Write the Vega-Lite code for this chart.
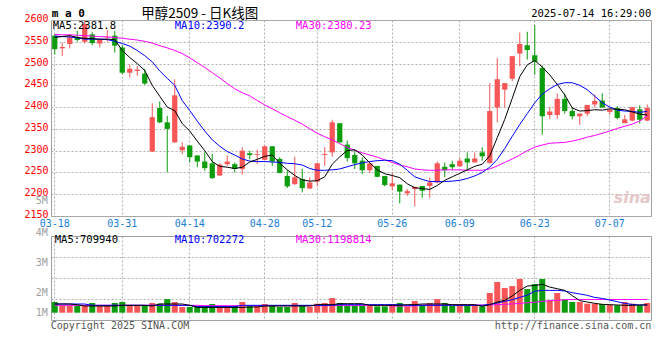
{
"$schema": "https://vega.github.io/schema/vega-lite/v6.json",
"background": "white",
"padding": {"left": 23, "top": 6, "right": 10, "bottom": 10},
"bounds": "flush",
"spacing": 20,
"config": {
  "view": {"stroke": "#a0a0a0", "strokeWidth": 1},
  "axis": {"labelFont": "DejaVu Sans Mono", "labelFontSize": 10, "ticks": false, "tickSize": 0, "domain": false, "gridColor": "#b0b0b0", "gridDash": [2, 2], "gridWidth": 1, "labelOverlap": false}
},
"datasets": {
"k": [
{"d":"03-18","o":2564,"h":2567,"l":2521,"c":2533,"v":970000,"m5":2560,"m10":2563,"m30":2567,"vm5":790000,"vm10":790000,"vm30":670000},
{"d":"03-19","o":2535,"h":2548,"l":2517,"c":2538,"v":670000,"m5":2562,"m10":2562,"m30":2566,"vm5":790000,"vm10":790000,"vm30":670000},
{"d":"03-20","o":2545,"h":2568,"l":2535,"c":2560,"v":670000,"m5":2564,"m10":2561,"m30":2566,"vm5":790000,"vm10":790000,"vm30":670000},
{"d":"03-21","o":2561,"h":2575,"l":2550,"c":2554,"v":670000,"m5":2560,"m10":2559,"m30":2565,"vm5":730000,"vm10":790000,"vm30":670000},
{"d":"03-24","o":2550,"h":2598,"l":2546,"c":2591,"v":670000,"m5":2558,"m10":2556,"m30":2564,"vm5":610000,"vm10":790000,"vm30":670000},
{"d":"03-25","o":2567,"h":2572,"l":2542,"c":2547,"v":880000,"m5":2557,"m10":2556,"m30":2563,"vm5":610000,"vm10":670000,"vm30":670000},
{"d":"03-26","o":2546,"h":2556,"l":2537,"c":2555,"v":610000,"m5":2556,"m10":2556,"m30":2562,"vm5":610000,"vm10":670000,"vm30":670000},
{"d":"03-27","o":2560,"h":2578,"l":2550,"c":2562,"v":610000,"m5":2556,"m10":2555,"m30":2561,"vm5":610000,"vm10":670000,"vm30":670000},
{"d":"03-28","o":2564,"h":2575,"l":2525,"c":2541,"v":880000,"m5":2555,"m10":2551,"m30":2560,"vm5":610000,"vm10":670000,"vm30":670000},
{"d":"03-31","o":2537,"h":2542,"l":2475,"c":2479,"v":970000,"m5":2530,"m10":2546,"m30":2558,"vm5":670000,"vm10":670000,"vm30":670000},
{"d":"04-01","o":2479,"h":2498,"l":2468,"c":2488,"v":670000,"m5":2514,"m10":2540,"m30":2556,"vm5":670000,"vm10":670000,"vm30":670000},
{"d":"04-02","o":2483,"h":2494,"l":2472,"c":2486,"v":610000,"m5":2500,"m10":2530,"m30":2554,"vm5":670000,"vm10":670000,"vm30":670000},
{"d":"04-03","o":2477,"h":2488,"l":2451,"c":2454,"v":610000,"m5":2484,"m10":2518,"m30":2551,"vm5":670000,"vm10":670000,"vm30":670000},
{"d":"04-07","o":2298,"h":2409,"l":2297,"c":2377,"v":880000,"m5":2450,"m10":2504,"m30":2547,"vm5":610000,"vm10":670000,"vm30":670000},
{"d":"04-08","o":2398,"h":2413,"l":2363,"c":2365,"v":820000,"m5":2425,"m10":2483,"m30":2541,"vm5":790000,"vm10":670000,"vm30":670000},
{"d":"04-09","o":2365,"h":2380,"l":2250,"c":2350,"v":1240000,"m5":2400,"m10":2466,"m30":2536,"vm5":790000,"vm10":670000,"vm30":670000},
{"d":"04-10","o":2319,"h":2464,"l":2318,"c":2427,"v":970000,"m5":2392,"m10":2450,"m30":2530,"vm5":790000,"vm10":670000,"vm30":670000},
{"d":"04-11","o":2301,"h":2319,"l":2292,"c":2309,"v":520000,"m5":2362,"m10":2415,"m30":2523,"vm5":790000,"vm10":670000,"vm30":670000},
{"d":"04-14","o":2312,"h":2312,"l":2273,"c":2285,"v":520000,"m5":2345,"m10":2392,"m30":2513,"vm5":670000,"vm10":670000,"vm30":670000},
{"d":"04-15","o":2289,"h":2289,"l":2262,"c":2275,"v":610000,"m5":2322,"m10":2368,"m30":2502,"vm5":480000,"vm10":550000,"vm30":670000},
{"d":"04-16","o":2275,"h":2296,"l":2254,"c":2260,"v":610000,"m5":2300,"m10":2345,"m30":2491,"vm5":480000,"vm10":550000,"vm30":640000},
{"d":"04-17","o":2271,"h":2292,"l":2235,"c":2237,"v":790000,"m5":2275,"m10":2325,"m30":2479,"vm5":480000,"vm10":550000,"vm30":640000},
{"d":"04-18","o":2243,"h":2271,"l":2242,"c":2268,"v":610000,"m5":2264,"m10":2310,"m30":2467,"vm5":480000,"vm10":550000,"vm30":640000},
{"d":"04-21","o":2269,"h":2289,"l":2265,"c":2275,"v":610000,"m5":2262,"m10":2298,"m30":2454,"vm5":480000,"vm10":550000,"vm30":640000},
{"d":"04-22","o":2269,"h":2273,"l":2250,"c":2258,"v":610000,"m5":2259,"m10":2290,"m30":2442,"vm5":480000,"vm10":550000,"vm30":640000},
{"d":"04-23","o":2258,"h":2308,"l":2245,"c":2300,"v":970000,"m5":2262,"m10":2281,"m30":2433,"vm5":480000,"vm10":670000,"vm30":640000},
{"d":"04-24","o":2294,"h":2300,"l":2280,"c":2290,"v":610000,"m5":2274,"m10":2276,"m30":2426,"vm5":520000,"vm10":670000,"vm30":640000},
{"d":"04-25","o":2290,"h":2302,"l":2269,"c":2292,"v":610000,"m5":2280,"m10":2275,"m30":2415,"vm5":520000,"vm10":670000,"vm30":640000},
{"d":"04-28","o":2279,"h":2312,"l":2278,"c":2310,"v":790000,"m5":2287,"m10":2275,"m30":2405,"vm5":610000,"vm10":670000,"vm30":640000},
{"d":"04-29","o":2310,"h":2311,"l":2265,"c":2275,"v":700000,"m5":2290,"m10":2274,"m30":2396,"vm5":610000,"vm10":670000,"vm30":640000},
{"d":"04-30","o":2281,"h":2285,"l":2248,"c":2249,"v":520000,"m5":2271,"m10":2273,"m30":2387,"vm5":610000,"vm10":670000,"vm30":640000},
{"d":"05-06","o":2242,"h":2255,"l":2214,"c":2218,"v":520000,"m5":2256,"m10":2271,"m30":2378,"vm5":610000,"vm10":670000,"vm30":640000},
{"d":"05-07","o":2223,"h":2286,"l":2222,"c":2239,"v":880000,"m5":2243,"m10":2270,"m30":2370,"vm5":610000,"vm10":670000,"vm30":640000},
{"d":"05-08","o":2235,"h":2258,"l":2204,"c":2214,"v":700000,"m5":2233,"m10":2267,"m30":2361,"vm5":610000,"vm10":670000,"vm30":640000},
{"d":"05-09","o":2213,"h":2239,"l":2212,"c":2227,"v":520000,"m5":2230,"m10":2259,"m30":2350,"vm5":610000,"vm10":670000,"vm30":640000},
{"d":"05-12","o":2229,"h":2271,"l":2219,"c":2271,"v":820000,"m5":2231,"m10":2255,"m30":2340,"vm5":730000,"vm10":670000,"vm30":640000},
{"d":"05-13","o":2290,"h":2308,"l":2265,"c":2292,"v":880000,"m5":2240,"m10":2255,"m30":2332,"vm5":730000,"vm10":670000,"vm30":640000},
{"d":"05-14","o":2296,"h":2371,"l":2286,"c":2365,"v":1330000,"m5":2269,"m10":2256,"m30":2325,"vm5":730000,"vm10":670000,"vm30":670000},
{"d":"05-15","o":2363,"h":2363,"l":2319,"c":2319,"v":880000,"m5":2286,"m10":2258,"m30":2316,"vm5":820000,"vm10":730000,"vm30":670000},
{"d":"05-16","o":2314,"h":2323,"l":2275,"c":2283,"v":670000,"m5":2300,"m10":2263,"m30":2307,"vm5":820000,"vm10":730000,"vm30":670000},
{"d":"05-19","o":2290,"h":2302,"l":2258,"c":2271,"v":670000,"m5":2302,"m10":2268,"m30":2301,"vm5":820000,"vm10":730000,"vm30":670000},
{"d":"05-20","o":2277,"h":2285,"l":2246,"c":2255,"v":670000,"m5":2290,"m10":2272,"m30":2295,"vm5":820000,"vm10":730000,"vm30":670000},
{"d":"05-21","o":2255,"h":2271,"l":2249,"c":2271,"v":670000,"m5":2272,"m10":2275,"m30":2290,"vm5":670000,"vm10":730000,"vm30":670000},
{"d":"05-22","o":2265,"h":2265,"l":2239,"c":2240,"v":580000,"m5":2256,"m10":2277,"m30":2285,"vm5":670000,"vm10":730000,"vm30":670000},
{"d":"05-23","o":2242,"h":2242,"l":2218,"c":2221,"v":580000,"m5":2247,"m10":2278,"m30":2279,"vm5":670000,"vm10":730000,"vm30":670000},
{"d":"05-26","o":2218,"h":2249,"l":2209,"c":2225,"v":790000,"m5":2243,"m10":2277,"m30":2273,"vm5":670000,"vm10":730000,"vm30":610000},
{"d":"05-27","o":2222,"h":2222,"l":2179,"c":2206,"v":880000,"m5":2238,"m10":2269,"m30":2267,"vm5":670000,"vm10":730000,"vm30":610000},
{"d":"05-28","o":2202,"h":2212,"l":2196,"c":2207,"v":580000,"m5":2224,"m10":2255,"m30":2263,"vm5":730000,"vm10":670000,"vm30":610000},
{"d":"05-29","o":2212,"h":2217,"l":2172,"c":2217,"v":1060000,"m5":2215,"m10":2240,"m30":2258,"vm5":730000,"vm10":670000,"vm30":610000},
{"d":"05-30","o":2219,"h":2219,"l":2192,"c":2208,"v":700000,"m5":2213,"m10":2234,"m30":2256,"vm5":790000,"vm10":670000,"vm30":700000},
{"d":"06-03","o":2219,"h":2239,"l":2191,"c":2227,"v":880000,"m5":2211,"m10":2229,"m30":2255,"vm5":790000,"vm10":670000,"vm30":700000},
{"d":"06-04","o":2227,"h":2275,"l":2225,"c":2271,"v":1240000,"m5":2220,"m10":2229,"m30":2255,"vm5":790000,"vm10":670000,"vm30":700000},
{"d":"06-05","o":2263,"h":2273,"l":2239,"c":2255,"v":880000,"m5":2232,"m10":2229,"m30":2256,"vm5":790000,"vm10":670000,"vm30":700000},
{"d":"06-06","o":2269,"h":2277,"l":2255,"c":2262,"v":610000,"m5":2240,"m10":2230,"m30":2256,"vm5":730000,"vm10":670000,"vm30":700000},
{"d":"06-09","o":2264,"h":2283,"l":2263,"c":2277,"v":670000,"m5":2248,"m10":2232,"m30":2256,"vm5":730000,"vm10":670000,"vm30":700000},
{"d":"06-10","o":2282,"h":2296,"l":2254,"c":2273,"v":670000,"m5":2256,"m10":2236,"m30":2255,"vm5":730000,"vm10":670000,"vm30":700000},
{"d":"06-11","o":2273,"h":2296,"l":2273,"c":2282,"v":670000,"m5":2264,"m10":2242,"m30":2255,"vm5":730000,"vm10":670000,"vm30":700000},
{"d":"06-12","o":2296,"h":2308,"l":2277,"c":2287,"v":580000,"m5":2269,"m10":2250,"m30":2255,"vm5":580000,"vm10":670000,"vm30":700000},
{"d":"06-13","o":2272,"h":2455,"l":2270,"c":2391,"v":1790000,"m5":2288,"m10":2262,"m30":2258,"vm5":730000,"vm10":760000,"vm30":700000},
{"d":"06-16","o":2399,"h":2513,"l":2365,"c":2464,"v":2790000,"m5":2330,"m10":2280,"m30":2265,"vm5":970000,"vm10":880000,"vm30":730000},
{"d":"06-17","o":2440,"h":2455,"l":2399,"c":2455,"v":2240000,"m5":2372,"m10":2305,"m30":2273,"vm5":1120000,"vm10":1030000,"vm30":760000},
{"d":"06-18","o":2465,"h":2517,"l":2460,"c":2517,"v":2420000,"m5":2420,"m10":2333,"m30":2281,"vm5":1520000,"vm10":1180000,"vm30":800000},
{"d":"06-19","o":2523,"h":2571,"l":2494,"c":2545,"v":3060000,"m5":2470,"m10":2360,"m30":2290,"vm5":2030000,"vm10":1390000,"vm30":850000},
{"d":"06-20","o":2542,"h":2573,"l":2509,"c":2531,"v":2150000,"m5":2497,"m10":2385,"m30":2300,"vm5":2420000,"vm10":1600000,"vm30":900000},
{"d":"06-23","o":2519,"h":2588,"l":2475,"c":2504,"v":2610000,"m5":2507,"m10":2410,"m30":2308,"vm5":2480000,"vm10":1950000,"vm30":950000},
{"d":"06-24","o":2490,"h":2496,"l":2337,"c":2379,"v":3060000,"m5":2492,"m10":2430,"m30":2313,"vm5":2580000,"vm10":2030000,"vm30":1030000},
{"d":"06-25","o":2382,"h":2400,"l":2373,"c":2390,"v":1120000,"m5":2474,"m10":2442,"m30":2317,"vm5":2330000,"vm10":2030000,"vm30":1090000},
{"d":"06-26","o":2382,"h":2431,"l":2373,"c":2419,"v":1790000,"m5":2452,"m10":2452,"m30":2318,"vm5":2180000,"vm10":2030000,"vm30":1120000},
{"d":"06-27","o":2419,"h":2431,"l":2385,"c":2391,"v":1210000,"m5":2428,"m10":2456,"m30":2319,"vm5":2030000,"vm10":1970000,"vm30":1180000},
{"d":"06-30","o":2391,"h":2399,"l":2372,"c":2379,"v":970000,"m5":2398,"m10":2456,"m30":2322,"vm5":1550000,"vm10":1820000,"vm30":1200000},
{"d":"07-01","o":2379,"h":2385,"l":2359,"c":2385,"v":970000,"m5":2391,"m10":2450,"m30":2326,"vm5":1100000,"vm10":1700000,"vm30":1200000},
{"d":"07-02","o":2385,"h":2405,"l":2379,"c":2405,"v":820000,"m5":2392,"m10":2440,"m30":2331,"vm5":970000,"vm10":1580000,"vm30":1200000},
{"d":"07-03","o":2406,"h":2429,"l":2399,"c":2414,"v":820000,"m5":2394,"m10":2425,"m30":2335,"vm5":850000,"vm10":1390000,"vm30":1200000},
{"d":"07-04","o":2415,"h":2432,"l":2399,"c":2399,"v":790000,"m5":2393,"m10":2410,"m30":2340,"vm5":760000,"vm10":1300000,"vm30":1200000},
{"d":"07-07","o":2389,"h":2394,"l":2383,"c":2394,"v":700000,"m5":2396,"m10":2400,"m30":2345,"vm5":730000,"vm10":1150000,"vm30":1200000},
{"d":"07-08","o":2398,"h":2402,"l":2372,"c":2375,"v":670000,"m5":2395,"m10":2393,"m30":2351,"vm5":700000,"vm10":1000000,"vm30":1200000},
{"d":"07-09","o":2363,"h":2382,"l":2363,"c":2372,"v":970000,"m5":2394,"m10":2391,"m30":2356,"vm5":670000,"vm10":850000,"vm30":1200000},
{"d":"07-10","o":2369,"h":2400,"l":2367,"c":2400,"v":820000,"m5":2389,"m10":2390,"m30":2361,"vm5":670000,"vm10":750000,"vm30":1200000},
{"d":"07-11","o":2395,"h":2404,"l":2362,"c":2371,"v":670000,"m5":2384,"m10":2388,"m30":2368,"vm5":700000,"vm10":700000,"vm30":1200000},
{"d":"07-14","o":2369,"h":2406,"l":2368,"c":2398,"v":880000,"m5":2381.8,"m10":2390.2,"m30":2380.23,"vm5":709940,"vm10":702272,"vm30":1198814}
],
"vlab": [
{"lab":"5M","v":10150000},
{"lab":"4M","v":7270000},
{"lab":"3M","v":4550000},
{"lab":"2M","v":1790000},
{"lab":"1M","v":-30000}
]
},
"vconcat": [
{
"width": 600,
"height": 196,
"data": {"name": "k"},
"layer": [
{
"mark": {"type": "rule", "strokeWidth": 1},
"encoding": {
"x": {"field": "d", "type": "ordinal", "title": null,
"scale": {"type": "band", "paddingInner": 0.3, "paddingOuter": 0.15},
"axis": {"values": ["03-18","03-31","04-14","04-28","05-12","05-26","06-09","06-23","07-07"], "labelAngle": 0, "labelColor": "#1a80d8", "labelPadding": 2, "grid": true, "bandPosition": 0.5, "labelFont": "DejaVu Sans Mono", "labelFontSize": 10, "labelOverlap": false}},
"y": {"field": "l", "type": "quantitative", "title": null,
"scale": {"domain": [2150, 2600], "nice": false, "zero": false},
"axis": {"values": [2150,2200,2250,2300,2350,2400,2450,2500,2550,2600], "tickCount": 20, "format": "d", "labelColor": "#ff0000", "labelPadding": 3, "labelOffset": -1.5, "grid": true, "labelOverlap": false, "labelFlush": false, "labelBound": false}},
"y2": {"field": "h"},
"color": {"condition": {"test": "datum.c >= datum.o", "value": "#f65656"}, "value": "#0c9c0c"}
}
},
{
"mark": {"type": "bar"},
"encoding": {
"x": {"field": "d", "type": "ordinal"},
"y": {"field": "o", "type": "quantitative"},
"y2": {"field": "c"},
"color": {"condition": {"test": "datum.c >= datum.o", "value": "#f65656"}, "value": "#0c9c0c"}
}
},
{
"mark": {"type": "line", "color": "#ff00ff", "strokeWidth": 1},
"encoding": {"x": {"field": "d", "type": "ordinal"}, "y": {"field": "m30", "type": "quantitative"}}
},
{
"mark": {"type": "line", "color": "#0000ff", "strokeWidth": 1},
"encoding": {"x": {"field": "d", "type": "ordinal"}, "y": {"field": "m10", "type": "quantitative"}}
},
{
"mark": {"type": "line", "color": "#000000", "strokeWidth": 1},
"encoding": {"x": {"field": "d", "type": "ordinal"}, "y": {"field": "m5", "type": "quantitative"}}
},
{
"data": {"values": [{}]},
"mark": {"type": "text", "text": "m a 0", "align": "left", "baseline": "middle", "font": "DejaVu Sans Mono", "fontWeight": "bold", "fontSize": 11, "color": "#000000", "dx": -3},
"encoding": {"x": {"datum": "03-18", "type": "ordinal"}, "y": {"datum": 2613.8, "type": "quantitative"}}
},
{
"data": {"values": [{}]},
"mark": {"type": "text", "text": "甲醇2509 - 日K线图", "align": "left", "baseline": "middle", "font": "Noto Sans CJK SC", "fontSize": 13.5, "color": "#000000", "dx": 4},
"encoding": {"x": {"datum": "04-02", "type": "ordinal"}, "y": {"datum": 2614.5, "type": "quantitative"}}
},
{
"data": {"values": [{}]},
"mark": {"type": "text", "text": "2025-07-14 16:29:00", "align": "right", "baseline": "middle", "font": "DejaVu Sans Mono", "fontSize": 10.5, "color": "#000000", "dx": 4},
"encoding": {"x": {"datum": "07-14", "type": "ordinal"}, "y": {"datum": 2614, "type": "quantitative"}}
},
{
"data": {"values": [{}]},
"mark": {"type": "text", "text": "MA5:2381.8", "align": "left", "baseline": "middle", "font": "DejaVu Sans Mono", "fontSize": 10.5, "color": "#000000", "dx": -2},
"encoding": {"x": {"datum": "03-18", "type": "ordinal"}, "y": {"datum": 2586, "type": "quantitative"}}
},
{
"data": {"values": [{}]},
"mark": {"type": "text", "text": "MA10:2390.2", "align": "left", "baseline": "middle", "font": "DejaVu Sans Mono", "fontSize": 10.5, "color": "#0000ff", "dx": 0},
"encoding": {"x": {"datum": "04-10", "type": "ordinal"}, "y": {"datum": 2586, "type": "quantitative"}}
},
{
"data": {"values": [{}]},
"mark": {"type": "text", "text": "MA30:2380.23", "align": "left", "baseline": "middle", "font": "DejaVu Sans Mono", "fontSize": 10.5, "color": "#ff00ff", "dx": 1},
"encoding": {"x": {"datum": "05-07", "type": "ordinal"}, "y": {"datum": 2586, "type": "quantitative"}}
},
{
"data": {"values": [{}]},
"mark": {"type": "text", "text": "sina", "align": "center", "baseline": "middle", "font": "DejaVu Sans", "fontStyle": "italic", "fontWeight": "bold", "fontSize": 16, "color": "#e6c8c8", "dx": 0},
"encoding": {"x": {"datum": "07-10", "type": "ordinal"}, "y": {"datum": 2191, "type": "quantitative"}}
}
]
},
{
"width": 600,
"height": 84,
"data": {"name": "k"},
"layer": [
{
"mark": {"type": "bar"},
"encoding": {
"x": {"field": "d", "type": "ordinal", "title": null,
"scale": {"type": "band", "paddingInner": 0.2, "paddingOuter": 0.1},
"axis": {"values": ["03-18","03-31","04-14","04-28","05-12","05-26","06-09","06-23","07-07"], "labels": false, "grid": true, "bandPosition": 0.5}},
"y": {"field": "v", "type": "quantitative", "title": null, "stack": null,
"scale": {"domain": [-664000, 6973000], "nice": false, "zero": false},
"axis": {"values": [1250000, 3150000, 5060000], "tickCount": 10, "labels": false, "grid": true}},
"color": {"condition": {"test": "datum.c >= datum.o", "value": "#f65656"}, "value": "#0c9c0c"}
}
},
{
"mark": {"type": "line", "color": "#ff00ff", "strokeWidth": 1},
"encoding": {"x": {"field": "d", "type": "ordinal"}, "y": {"field": "vm30", "type": "quantitative"}}
},
{
"mark": {"type": "line", "color": "#0000ff", "strokeWidth": 1},
"encoding": {"x": {"field": "d", "type": "ordinal"}, "y": {"field": "vm10", "type": "quantitative"}}
},
{
"mark": {"type": "line", "color": "#000000", "strokeWidth": 1},
"encoding": {"x": {"field": "d", "type": "ordinal"}, "y": {"field": "vm5", "type": "quantitative"}}
},
{
"data": {"name": "vlab"},
"mark": {"type": "text", "align": "right", "baseline": "middle", "font": "DejaVu Sans Mono", "fontSize": 10, "color": "#a0a0a0", "dx": -7},
"encoding": {"x": {"datum": "03-18", "type": "ordinal"}, "y": {"field": "v", "type": "quantitative"}, "text": {"field": "lab"}}
},
{
"data": {"values": [{}]},
"mark": {"type": "text", "text": "MA5:709940", "align": "left", "baseline": "middle", "font": "DejaVu Sans Mono", "fontSize": 10.5, "color": "#000000", "dx": 0},
"encoding": {"x": {"datum": "03-18", "type": "ordinal"}, "y": {"datum": 6580000, "type": "quantitative"}}
},
{
"data": {"values": [{}]},
"mark": {"type": "text", "text": "MA10:702272", "align": "left", "baseline": "middle", "font": "DejaVu Sans Mono", "fontSize": 10.5, "color": "#0000ff", "dx": 0},
"encoding": {"x": {"datum": "04-10", "type": "ordinal"}, "y": {"datum": 6580000, "type": "quantitative"}}
},
{
"data": {"values": [{}]},
"mark": {"type": "text", "text": "MA30:1198814", "align": "left", "baseline": "middle", "font": "DejaVu Sans Mono", "fontSize": 10.5, "color": "#ff00ff", "dx": 1},
"encoding": {"x": {"datum": "05-07", "type": "ordinal"}, "y": {"datum": 6580000, "type": "quantitative"}}
},
{
"data": {"values": [{}]},
"mark": {"type": "text", "text": "Copyright 2025 SINA.COM", "align": "left", "baseline": "middle", "font": "DejaVu Sans Mono", "fontSize": 10, "color": "#555555", "dx": -4},
"encoding": {"x": {"datum": "03-18", "type": "ordinal"}, "y": {"datum": -1210000, "type": "quantitative"}}
},
{
"data": {"values": [{}]},
"mark": {"type": "text", "text": "http://finance.sina.com.cn", "align": "right", "baseline": "middle", "font": "DejaVu Sans Mono", "fontSize": 10, "color": "#555555", "dx": 4},
"encoding": {"x": {"datum": "07-14", "type": "ordinal"}, "y": {"datum": -1210000, "type": "quantitative"}}
}
]
}
]
}
